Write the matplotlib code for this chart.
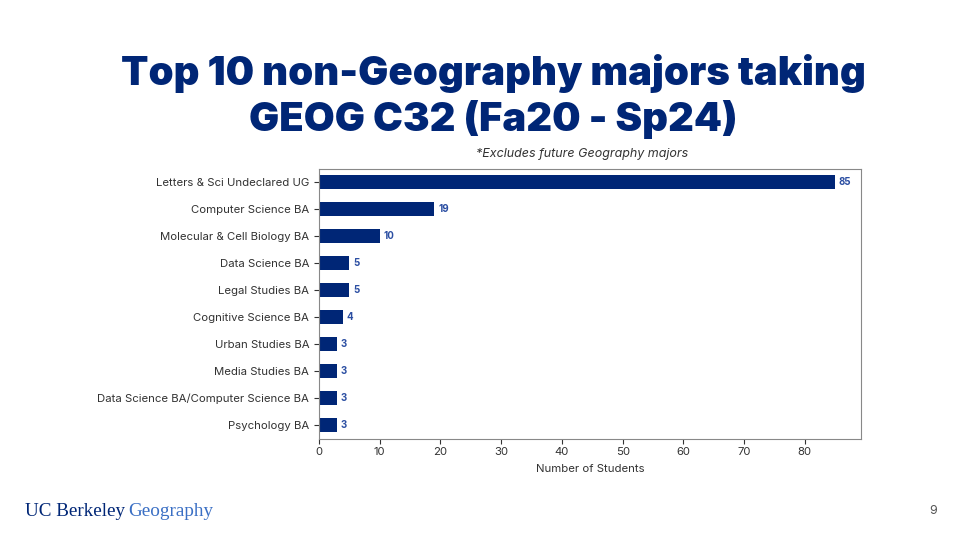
import matplotlib
matplotlib.use("Agg")
import matplotlib.pyplot as plt

categories = ["Letters & Sci Undeclared UG", "Computer Science BA", "Molecular & Cell Biology BA",
              "Data Science BA", "Legal Studies BA", "Cognitive Science BA", "Urban Studies BA",
              "Media Studies BA", "Data Science BA/Computer Science BA", "Psychology BA"]
values = [85, 19, 10, 5, 5, 4, 3, 3, 3, 3]

NAVY = "#002676"
plt.rcParams['font.family'] = ['Inter', 'DejaVu Sans']

fig = plt.figure(figsize=(9.6, 5.4), dpi=100)
fig.patch.set_facecolor("white")

fig.text(0.5135, 1-85/540, "Top 10 non-Geography majors taking", ha="center", va="baseline",
         fontsize=28.8, fontweight=900, color=NAVY)
fig.text(0.5135, 1-131/540, "GEOG C32 (Fa20 - Sp24)", ha="center", va="baseline",
         fontsize=28.8, fontweight=900, color=NAVY)

ax = fig.add_axes([319/960, 1-438.5/540, (861-319)/960, (438.5-168.5)/540])
y = list(range(len(categories)))
ax.barh(y, values, height=0.5, color=NAVY)
ax.set_yticks(y)
ax.set_yticklabels(categories, fontsize=8.2, color="#333333")
ax.set_ylim(len(categories)-0.5, -0.5)
ax.set_xlim(0, max(values)*1.05)
ax.set_xticks(range(0, 90, 10))
ax.tick_params(axis='x', labelsize=8.2, colors="#333333", pad=2.5)
ax.tick_params(axis='y', colors="#333333")
for sp in ax.spines.values():
    sp.set_color("#888888")
ax.set_xlabel("Number of Students", fontsize=8.2, color="#333333", labelpad=5)
fig.text(582/960, 1-154/540, "*Excludes future Geography majors", ha="center", va="center",
         fontsize=9, style="italic", color="#333333")
for yi, v in zip(y, values):
    ax.text(v + 0.6, yi, str(v), va="center", ha="left", fontsize=7, fontweight="bold", color="#2b4ea2")

fig.text(25/960, 1-512/540, "UC Berkeley", ha="left", va="center", fontsize=13.8,
         family="Liberation Serif", color=NAVY)
fig.text(128/960, 1-512/540, "Geography", ha="left", va="center", fontsize=13.8,
         family="Liberation Serif", color="#3a6fc4")
fig.text(933/960, 1-511/540, "9", ha="center", va="center", fontsize=9, color="#555555")

fig.savefig("out.png", dpi=100, facecolor="white")
